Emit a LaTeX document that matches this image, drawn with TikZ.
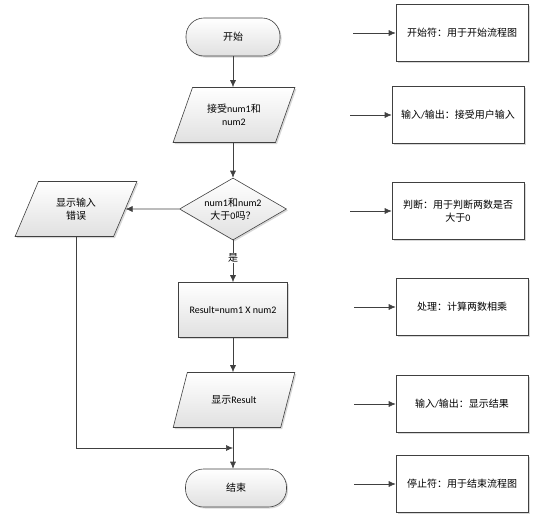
\documentclass[tikz,border=0pt]{standalone}
\usepackage{fontspec}
\setmainfont{Carlito}
\newfontfamily\cjk{Noto Sans CJK SC}
\newcommand{\zh}[1]{{\cjk #1}}
\usetikzlibrary{shapes.geometric, arrows.meta, shadows}

\begin{document}
\begin{tikzpicture}[x=1pt, y=-1pt, font=\fontsize{10}{12.5}\selectfont,
  line width=0.6pt, draw=black!75,
  base/.style={draw=black!75, top color=white, bottom color=black!12,
    drop shadow={shadow xshift=1.5pt, shadow yshift=-1.5pt, fill=black!30, opacity=0.5}},
  term/.style={base, rectangle, rounded corners=18pt, minimum height=38pt},
  io/.style={base, trapezium, trapezium stretches=true, trapezium left angle=63,
    trapezium right angle=117, minimum width=122pt, minimum height=55pt, align=center},
  decision/.style={base, diamond, shape aspect=1.7, inner sep=0pt,
    minimum width=107pt, minimum height=62pt, align=center},
  proc/.style={base, rectangle, minimum width=109pt, minimum height=55pt},
  note/.style={draw=black!75, fill=white, rectangle, minimum width=132pt, minimum height=57pt,
    align=center,
    drop shadow={shadow xshift=1.5pt, shadow yshift=-1.5pt, fill=black!30, opacity=0.5}},
  arr/.style={draw=black!75, -{Latex[length=7pt, width=6pt]}}]

  \useasboundingbox (0,0) rectangle (557,522);

  % main flow
  \node[term, minimum width=94pt] (start) at (233,37) {\zh{开始}};
  \node[io] (input) at (234,115) {\zh{接受}num1\zh{和}\\num2};
  \node[decision] (check) at (233,209) {num1\zh{和}num2\\\zh{大于}0\zh{吗？}};
  \node[io] (err) at (76,209) {\zh{显示输入}\\\zh{错误}};
  \node[proc] (calc) at (233,310) {Result=num1 X num2};
  \node[io] (output) at (234,400) {\zh{显示}Result};
  \node[term, minimum width=101pt] (stop) at (236,488) {\zh{结束}};
  \coordinate (merge) at (233,448);

  \draw[arr] (start) -- (start |- input.north);
  \draw[arr] (input.south -| check) -- (check.north);
  \draw[arr] (check.west) -- (err.east);
  \draw[arr] (check.south) -- node[pos=0.42, fill=white, inner sep=1pt] {\zh{是}} (calc.north);
  \draw[arr] (calc.south) -- (calc |- output.north);
  \draw (output.south -| calc) -- (merge);
  \draw[arr] (merge) -- (merge |- stop.north);
  \draw[arr] (err.south) |- (merge);

  % legend boxes
  \node[note] (n1) at (462,33) {\zh{开始符：用于开始流程图}};
  \node[note] (n2) at (458,115) {\zh{输入}/\zh{输出：接受用户输入}};
  \node[note] (n3) at (458,211) {\zh{判断：用于判断两数是否}\\\zh{大于}0};
  \node[note] (n4) at (462,307) {\zh{处理：计算两数相乘}};
  \node[note] (n5) at (462,404) {\zh{输入}/\zh{输出：显示结果}};
  \node[note] (n6) at (462,484) {\zh{停止符：用于结束流程图}};

  \coordinate (t1) at (353,33);
  \coordinate (t2) at (350,115);
  \coordinate (t3) at (350,211);
  \coordinate (t4) at (354,307);
  \coordinate (t5) at (354,404);
  \coordinate (t6) at (354,484);
  \foreach \i in {1,...,6}
    \draw[arr] (t\i) -- (n\i.west);
\end{tikzpicture}
\end{document}
